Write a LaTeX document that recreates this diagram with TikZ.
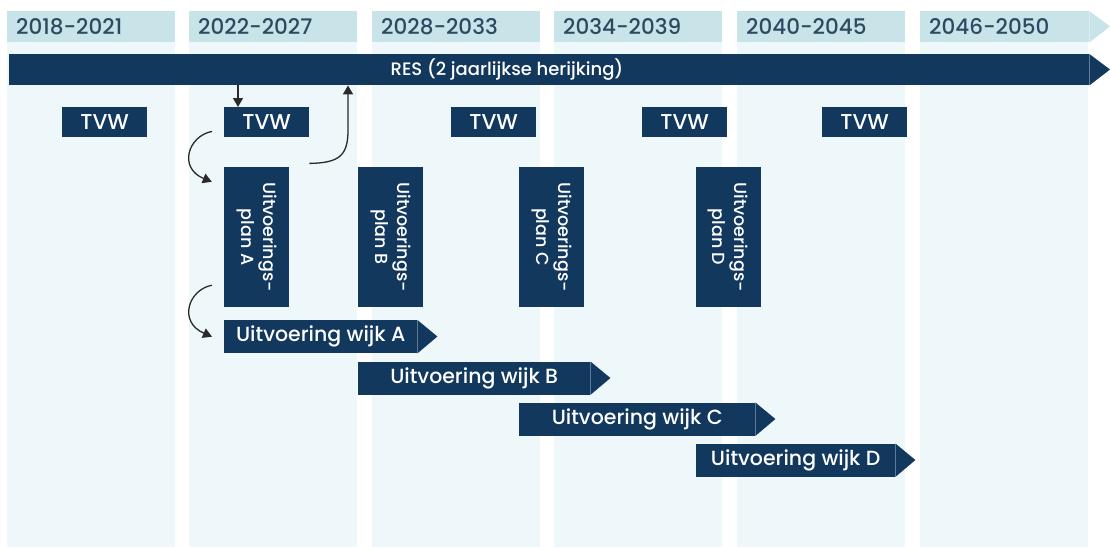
\documentclass[tikz,border=0pt]{standalone}
\usepackage{fontspec}
\setmainfont{Poppins}[UprightFont={* Medium}]
\usetikzlibrary{arrows.meta}
\definecolor{navy}{HTML}{12385E}
\definecolor{hdr}{HTML}{C9E4E9}
\definecolor{colbg}{HTML}{EEF7FA}
\definecolor{hdrtext}{HTML}{2D4A62}
\definecolor{arrowc}{HTML}{2A2A2A}
\tikzset{
  colbox/.style={fill=colbg, draw=none},
  hdrbox/.style={fill=hdr, draw=none, anchor=north west, minimum width=168pt, minimum height=31pt, inner sep=0pt},
  hdrlabel/.style={anchor=west, text=hdrtext, font=\fontsize{21.5}{24}\selectfont, inner sep=0pt},
  tvwbox/.style={fill=navy, text=white, anchor=north west, minimum width=85pt, minimum height=30pt, inner sep=0pt, font=\fontsize{21.5}{24}\selectfont},
  planbox/.style={fill=navy, text=white, rotate=-90, minimum width=140pt, minimum height=65pt, inner sep=0pt, align=center, font=\fontsize{17.5}{22}\selectfont},
  barbox/.style={fill=navy, text=white, anchor=north west, minimum height=33pt, inner sep=0pt, font=\fontsize{20.5}{22}\selectfont},
  arr/.style={draw=arrowc, line width=1.3pt, -{Triangle[length=9pt,width=10pt]}},
}
\begin{document}
\begin{tikzpicture}[x=1pt,y=-1pt]
\useasboundingbox (0,0) rectangle (1110,547);
% column backgrounds
\foreach \x in {7,189,372,554,737,920}{
  \fill[colbg] (\x,42) rectangle ++(168,505);
}
% headers
\node[hdrbox] (h1) at (7,11) {};
\node[hdrbox] (h2) at (189,11) {};
\node[hdrbox] (h3) at (372,11) {};
\node[hdrbox] (h4) at (554,11) {};
\node[hdrbox] (h5) at (737,11) {};
\node[hdrbox, minimum width=169pt] (h6) at (920,11) {};
\fill[hdr] (h6.north east) -- (1110,26.5) -- (h6.south east) -- cycle;
\node[hdrlabel] at ([xshift=9pt]h1.west) {2018-2021};
\node[hdrlabel] at ([xshift=9pt]h2.west) {2022-2027};
\node[hdrlabel] at ([xshift=9pt]h3.west) {2028-2033};
\node[hdrlabel] at ([xshift=9pt]h4.west) {2034-2039};
\node[hdrlabel] at ([xshift=9pt]h5.west) {2040-2045};
\node[hdrlabel] at ([xshift=9pt]h6.west) {2046-2050};
% RES bar
\node[fill=navy, anchor=north west, minimum width=1080pt, minimum height=31pt, inner sep=0pt] (res) at (9,54) {};
\fill[navy] (res.north east) -- (1110,69.5) -- (res.south east) -- cycle;
\node[text=white, font=\fontsize{18}{20}\selectfont, inner sep=0pt] (restext) at (507,69.5) {RES (2 jaarlijkse herijking)};
% TVW
\node[tvwbox] (t1) at (62,107) {TVW};
\node[tvwbox] (t2) at (224,107) {TVW};
\node[tvwbox] (t3) at (451,107) {TVW};
\node[tvwbox] (t4) at (642,107) {TVW};
\node[tvwbox] (t5) at (822,107) {TVW};
% plans
\node[planbox] (pA) at (256.5,237) {Uitvoerings-\\plan A};
\node[planbox] (pB) at (390.5,237) {Uitvoerings-\\plan B};
\node[planbox] (pC) at (551.5,237) {Uitvoerings-\\plan C};
\node[planbox] (pD) at (728,237) {Uitvoerings-\\plan D};
% bars
\node[barbox, minimum width=193pt] (wA) at (224,320) {Uitvoering wijk A};
\fill[navy] (wA.north east) -- ++(20,16.5) -- (wA.south east) -- cycle;
\node[barbox, minimum width=232pt] (wB) at (358,361.5) {Uitvoering wijk B};
\fill[navy] (wB.north east) -- ++(20,16.5) -- (wB.south east) -- cycle;
\node[barbox, minimum width=236pt] (wC) at (519,402.5) {Uitvoering wijk C};
\fill[navy] (wC.north east) -- ++(20,16.5) -- (wC.south east) -- cycle;
\node[barbox, minimum width=199pt] (wD) at (696,443.5) {Uitvoering wijk D};
\fill[navy] (wD.north east) -- ++(20,16.5) -- (wD.south east) -- cycle;
% connectors
\coordinate (a1) at ([xshift=14pt]t2.north west);
\draw[arr] (res.south -| a1) -- (a1);
\coordinate (a2s) at ([xshift=-12pt,yshift=6pt]t2.south west);
\coordinate (a2e) at ([xshift=-12pt,yshift=-15pt]pA.south west);
\draw[arr] (a2s) .. controls (188,136) and (178,168) .. (a2e);
\coordinate (a3s) at ([yshift=-26pt]t2.south east);
\coordinate (a3e) at (348,85);
\draw[arr] (a3s) .. controls (340,163) and (348,155) .. (348,130) -- (res.south -| a3e);
\coordinate (a4s) at ([xshift=-12pt,yshift=22pt]pA.south east);
\coordinate (a4e) at ([xshift=-12pt]wA.west);
\draw[arr] (a4s) .. controls (188,290) and (178,322) .. (a4e);
\end{tikzpicture}
\end{document}
